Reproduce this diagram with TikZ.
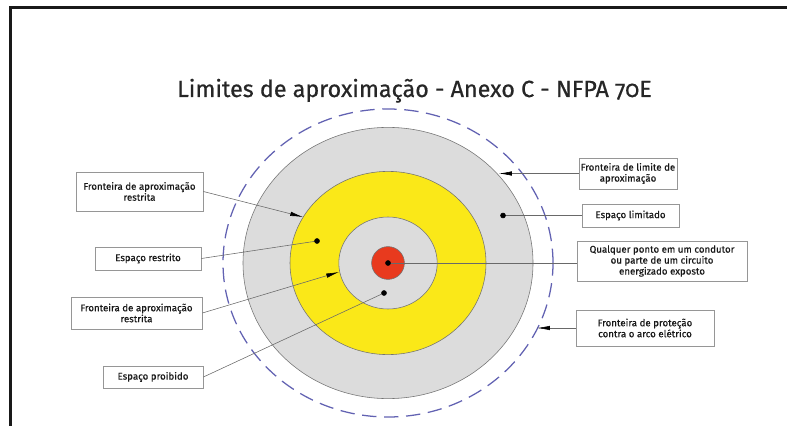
\documentclass[tikz,border=0pt]{standalone}
\usepackage{fontspec}
\setmainfont{Fira Sans}[FakeBold=0.4]
\newfontfamily\titlefont[Numbers=OldStyle, FakeBold=0.6]{Fira Sans}
\usepackage{tikz}
\usepackage{tkz-euclide}
\usepackage{xcolor}
\usetikzlibrary{arrows.meta, calc}

\definecolor{cinza}{RGB}{220,220,220}
\definecolor{amarelo}{RGB}{250,232,24}
\definecolor{vermelho}{RGB}{232,58,30}
\definecolor{azul}{RGB}{98,98,178}
\definecolor{linha}{RGB}{105,105,105}

\tikzset{
  caixa/.style = {draw=linha!70, line width=0.6pt, fill=white, align=center,
                  font=\fontsize{6.9}{7.8}\selectfont, text=black!90, inner sep=1pt},
  seta/.style  = {draw=linha, line width=0.4pt, -{Latex[length=3.2mm,width=1.1mm,color=black]}},
  fio/.style   = {draw=linha, line width=0.4pt},
  anel/.style  = {draw=black!55, line width=0.4pt}
}

\begin{document}
\begin{tikzpicture}[x=0.25mm, y=-0.25mm]
	    \useasboundingbox (0,0) rectangle (787,426);
	    % moldura
	    \draw[line width=1.6pt, black!90] (10.5,426) -- (10.5,7.5) -- (787,7.5);
	    \node[font=\titlefont\fontsize{16.6}{20}\selectfont, text=black!85, anchor=base] (titulo)
	        at (414.5,97) {Limites de aproximação - Anexo C - NFPA 70E};
	    % pontos
	    \tkzDefPoint(388,263){c}
	    \tkzDefPoint(317,241){d_1}
	    \tkzDefPoint(384,293){d_2}
	    \tkzDefPoint(503,215.5){d_3}
	    \tkzDefPoint(303,217){a_1}
	    \tkzDefPoint(339,272){a_2}
	    \tkzDefPoint(499,173.5){a_3}
	    \tkzDefPoint(537,328){a_4}
	    % aneis
	    \draw[azul, line width=0.9pt, dash pattern=on 3.6mm off 1.9mm]
	        (c) ellipse [x radius=41.25mm, y radius=38.5mm];
	    \draw[anel, fill=cinza] (c) ellipse [x radius=36.25mm, y radius=33.9mm];
	    \draw[anel, fill=amarelo] (c) ellipse [x radius=24.5mm, y radius=22.9mm];
	    \draw[anel, fill=cinza] (c) ellipse [x radius=12.3mm, y radius=11.5mm];
	    \draw[anel, fill=vermelho] (c) circle (4.1mm);
	    % caixas
	    \node[caixa, minimum width=31.75mm, minimum height=9.75mm] (f_1) at (139.5,191.5)
	        {Fronteira de aproximação\\restrita};
	    \node[caixa, minimum width=26.5mm, minimum height=5.75mm] (e_r) at (148,258.5)
	        {Espaço restrito};
	    \node[caixa, minimum width=32.75mm, minimum height=8mm] (f_2) at (136.5,313)
	        {Fronteira de aproximação\\restrita};
	    \node[caixa, minimum width=25mm, minimum height=5.5mm] (e_p) at (153,377)
	        {Espaço proibido};
	    \node[caixa, minimum width=24.5mm, minimum height=7.75mm] (f_l) at (628,173.5)
	        {Fronteira de limite de\\aproximação};
	    \node[caixa, minimum width=24.25mm, minimum height=5.75mm] (e_l) at (630.5,215.5)
	        {Espaço limitado};
	    \node[caixa, minimum width=42.5mm, minimum height=10mm] (q) at (662,261)
	        {Qualquer ponto em um condutor\\ou parte de um circuito\\energizado exposto};
	    \node[caixa, minimum width=34.5mm, minimum height=9mm] (f_a) at (645,328)
	        {Fronteira de proteção\\contra o arco elétrico};
	    % ligacoes
	    \draw[seta] (f_1.east) -- (a_1);
	    \draw[fio] (e_r.east) -- (d_1);
	    \draw[seta] (f_2.east) -- (a_2);
	    \draw[fio] (e_p.east) -- (d_2);
	    \draw[seta] (f_l.west) -- (a_3);
	    \draw[fio] (e_l.west) -- (d_3);
	    \draw[fio] (q.west |- c) -- (c);
	    \draw[seta] (f_a.west) -- (a_4);
	    \tkzDrawPoints[size=3.5,fill=black,color=black](c,d_1,d_2,d_3)
	\end{tikzpicture}
\end{document}
